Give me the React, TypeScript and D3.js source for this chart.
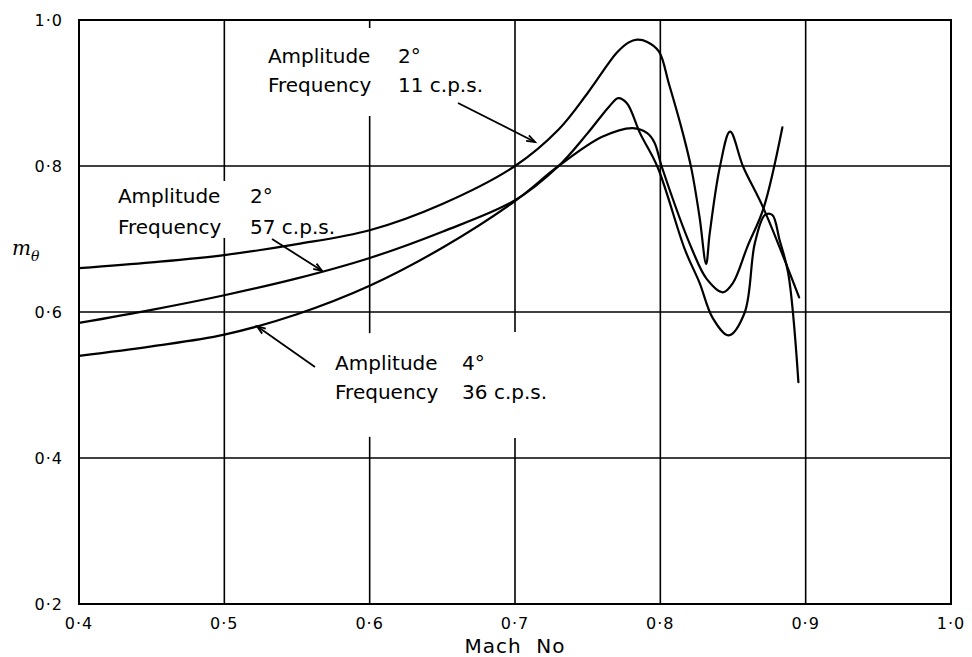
import React from "react";
import * as d3 from "d3";

// Mach number (x) and m_theta (y)
const curveA_x = [0.40, 0.45, 0.50, 0.55, 0.60, 0.65, 0.70, 0.73, 0.75, 0.77, 0.778, 0.784, 0.791, 0.799, 0.806, 0.8155, 0.8215, 0.827, 0.8315, 0.834, 0.841, 0.848, 0.857, 0.871, 0.8955];
const curveA_y = [0.660, 0.668, 0.678, 0.693, 0.712, 0.748, 0.800, 0.850, 0.900, 0.955, 0.969, 0.973, 0.970, 0.957, 0.912, 0.845, 0.795, 0.730, 0.666, 0.708, 0.799, 0.847, 0.799, 0.742, 0.620];

const curveB_x = [0.40, 0.45, 0.50, 0.55, 0.60, 0.65, 0.70, 0.73, 0.75, 0.765, 0.771, 0.777, 0.786, 0.798, 0.817, 0.827, 0.836, 0.847, 0.858, 0.865, 0.872, 0.877, 0.882, 0.888, 0.895];
const curveB_y = [0.585, 0.603, 0.623, 0.646, 0.674, 0.710, 0.753, 0.800, 0.845, 0.882, 0.893, 0.886, 0.845, 0.799, 0.685, 0.640, 0.592, 0.568, 0.599, 0.694, 0.733, 0.733, 0.699, 0.653, 0.504];

const curveC_x = [0.40, 0.45, 0.50, 0.55, 0.60, 0.65, 0.70, 0.73, 0.76, 0.781, 0.791, 0.796, 0.801, 0.822, 0.832, 0.843, 0.850, 0.860, 0.871, 0.884];
const curveC_y = [0.540, 0.553, 0.569, 0.597, 0.636, 0.688, 0.752, 0.800, 0.840, 0.852, 0.845, 0.832, 0.799, 0.685, 0.645, 0.627, 0.640, 0.690, 0.742, 0.853];

const xTicks = [0.4, 0.5, 0.6, 0.7, 0.8, 0.9, 1.0];
const yTicks = [0.2, 0.4, 0.6, 0.8, 1.0];
const xTickLabels = ["0·4", "0·5", "0·6", "0·7", "0·8", "0·9", "1·0"];
const yTickLabels = ["0·2", "0·4", "0·6", "0·8", "1·0"];

// Gaps in vertical grid lines (y-ranges) where the notes sit
const gridGaps: Record<string, [number, number][]> = {
  "0.5": [[0.7014, 0.7795]],
  "0.6": [[0.8685, 0.989], [0.429, 0.571]],
  "0.7": [[0.4274, 0.5726]],
};

const W = 972;
const H = 657;
const x = d3.scaleLinear().domain([0.4, 1.0]).range([79, 951]);
const y = d3.scaleLinear().domain([0.2, 1.0]).range([604, 20]);

const FONT = "'DejaVu Sans', sans-serif";

function zip(xs: number[], ys: number[]): [number, number][] {
  return xs.map((v, i) => [v, ys[i]]);
}

const lineGen = d3
  .line<[number, number]>()
  .x((d) => x(d[0]))
  .y((d) => y(d[1]))
  .curve(d3.curveCatmullRom.alpha(0.5));

function Arrow({ x1, y1, x2, y2 }: { x1: number; y1: number; x2: number; y2: number }) {
  const px1 = x(x1), py1 = y(y1), px2 = x(x2), py2 = y(y2);
  const ang = Math.atan2(py2 - py1, px2 - px1);
  const L = 9, spread = 0.35;
  const a1 = [px2 - L * Math.cos(ang - spread), py2 - L * Math.sin(ang - spread)];
  const a2 = [px2 - L * Math.cos(ang + spread), py2 - L * Math.sin(ang + spread)];
  return (
    <g stroke="#000" strokeWidth={1.8} fill="none">
      <line x1={px1} y1={py1} x2={px2} y2={py2} />
      <path d={`M${a1[0]},${a1[1]} L${px2},${py2} L${a2[0]},${a2[1]}`} />
    </g>
  );
}

function Note({ lx, vx, y1, y2, amp, freq }: { lx: number; vx: number; y1: number; y2: number; amp: string; freq: string }) {
  return (
    <g fontFamily={FONT} fontSize={20} fill="#000">
      <text x={x(lx)} y={y(y1)}>Amplitude</text>
      <text x={x(vx)} y={y(y1)}>{amp}</text>
      <text x={x(lx)} y={y(y2)}>Frequency</text>
      <text x={x(vx)} y={y(y2)}>{freq}</text>
    </g>
  );
}

function vSegments(v: number): [number, number][] {
  const key = String(v);
  const gaps = gridGaps[key] || [];
  const sorted = [...gaps].sort((a, b) => a[0] - b[0]);
  const segs: [number, number][] = [];
  let start = 0.2;
  for (const g of sorted) {
    segs.push([start, g[0]]);
    start = g[1];
  }
  segs.push([start, 1.0]);
  return segs;
}

export default function App() {
  const series = [zip(curveA_x, curveA_y), zip(curveB_x, curveB_y), zip(curveC_x, curveC_y)];
  return (
    <svg
      width={W}
      height={H}
      style={{ position: "absolute", left: 0, top: 0, background: "#fff" }}
    >
      <rect x={0} y={0} width={W} height={H} fill="#fff" />
      {/* horizontal grid */}
      {yTicks.slice(1, -1).map((t) => (
        <line key={"h" + t} x1={x(0.4)} x2={x(1.0)} y1={y(t)} y2={y(t)} stroke="#000" strokeWidth={1.6} />
      ))}
      {/* vertical grid */}
      {xTicks.slice(1, -1).map((t) =>
        vSegments(t).map((s, i) => (
          <line key={"v" + t + "-" + i} x1={x(t)} x2={x(t)} y1={y(s[0])} y2={y(s[1])} stroke="#000" strokeWidth={1.6} />
        ))
      )}
      {/* frame */}
      <rect x={x(0.4)} y={y(1.0)} width={x(1.0) - x(0.4)} height={y(0.2) - y(1.0)} fill="none" stroke="#000" strokeWidth={2} />

      {/* curves */}
      {series.map((s, i) => (
        <path key={"c" + i} d={lineGen(s) || ""} fill="none" stroke="#000" strokeWidth={2.2} strokeLinejoin="round" strokeLinecap="round" />
      ))}

      {/* tick labels */}
      <g fontFamily={FONT} fontSize={16} fill="#000" letterSpacing={1}>
        {yTicks.map((t, i) => (
          <text key={"yl" + t} x={x(0.4) - 16} y={y(t)} dy="0.35em" textAnchor="end">
            {yTickLabels[i]}
          </text>
        ))}
        {xTicks.map((t, i) => (
          <text key={"xl" + t} x={x(t)} y={y(0.2) + 25} textAnchor="middle">
            {xTickLabels[i]}
          </text>
        ))}
      </g>

      {/* axis titles */}
      <text x={x(0.7)} y={y(0.2) + 49} textAnchor="middle" fontFamily={FONT} fontSize={20} letterSpacing={1} fill="#000">
        {"Mach\u00A0\u00A0No"}
      </text>
      <text x={12} y={255} fontFamily="'DejaVu Serif', serif" fontStyle="italic" fontSize={20} fill="#000">
        m
        <tspan fontSize={14} dy={6}>θ</tspan>
      </text>

      {/* notes */}
      <Note lx={0.530} vx={0.6195} y1={0.941} y2={0.901} amp="2°" freq="11 c.p.s." />
      <Note lx={0.4268} vx={0.5177} y1={0.7493} y2={0.7068} amp="2°" freq="57 c.p.s." />
      <Note lx={0.5762} vx={0.6636} y1={0.5205} y2={0.4808} amp="4°" freq="36 c.p.s." />

      <Arrow x1={0.6608} y1={0.8863} x2={0.7138} y2={0.8329} />
      <Arrow x1={0.5328} y1={0.700} x2={0.5672} y2={0.6565} />
      <Arrow x1={0.5624} y1={0.5247} x2={0.5225} y2={0.5805} />
    </svg>
  );
}
